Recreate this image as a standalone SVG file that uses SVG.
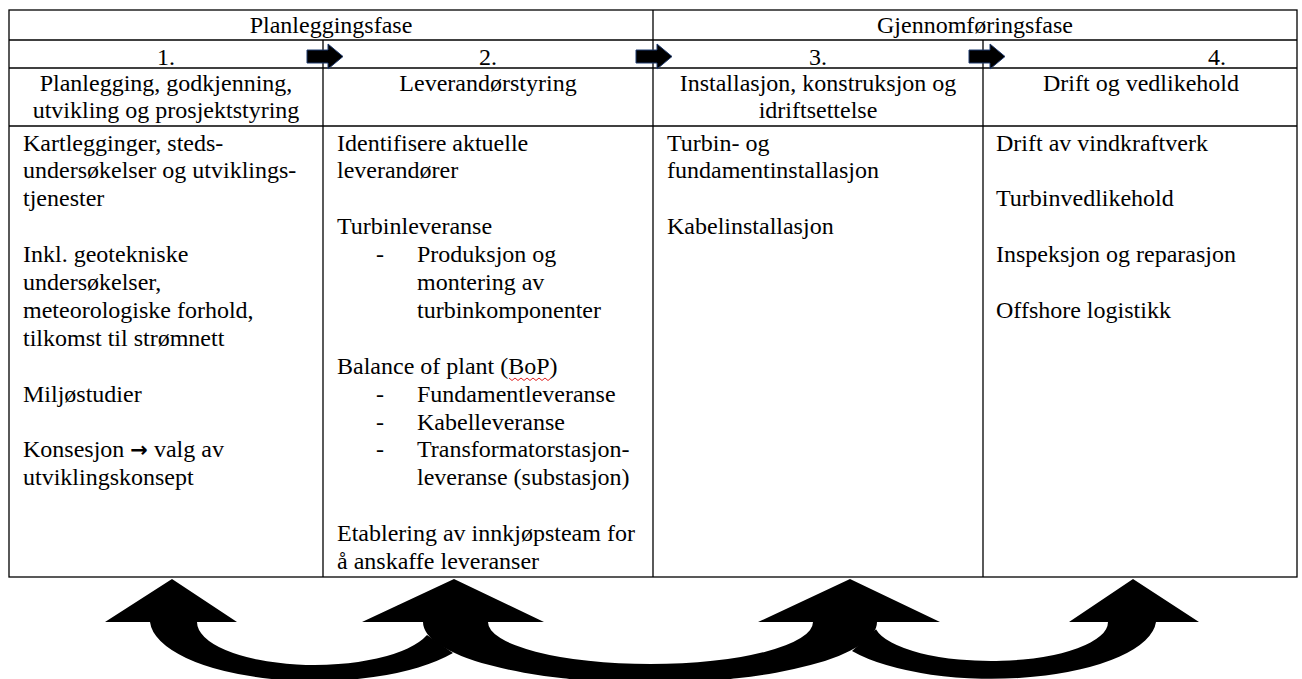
<svg xmlns="http://www.w3.org/2000/svg" width="1302" height="679" viewBox="0 0 1302 679">
<style>
text { font-family: "Liberation Serif", "Times New Roman", serif; font-size: 24px; fill: #000; }
.c { text-anchor: middle; }
.arr { font-family: "DejaVu Sans", sans-serif; font-weight: bold; font-size: 21px; }
.grid { stroke: #000; stroke-width: 1.3; fill: none; }
.sa { fill: #000; stroke: #1f3a6e; stroke-width: 1; }
.ca { fill: #000; }
.spell { fill: none; stroke: #e02020; stroke-width: 1; }
</style>
<rect width="1302" height="679" fill="#fff"/>
<g id="table" class="grid">
  <rect x="9" y="10" width="1288" height="567"/>
  <line x1="9" y1="40" x2="1297" y2="40"/>
  <line x1="9" y1="68" x2="1297" y2="68"/>
  <line x1="9" y1="126" x2="1297" y2="126"/>
  <line x1="653" y1="10" x2="653" y2="577"/>
  <line x1="323" y1="40" x2="323" y2="577"/>
  <line x1="983" y1="40" x2="983" y2="577"/>
</g>
<g id="phase-planlegging"><text class="c" x="331" y="33">Planleggingsfase</text></g>
<g id="phase-gjennomforing"><text class="c" x="975" y="33">Gjennomføringsfase</text></g>
<g id="step1">
  <text class="c" x="166" y="65">1.</text>
  <text class="c" x="166" y="91">Planlegging, godkjenning,</text>
  <text class="c" x="166" y="118">utvikling og prosjektstyring</text>
  <text x="23" y="150.5">Kartlegginger, steds-</text>
  <text x="23" y="178.4">undersøkelser og utviklings-</text>
  <text x="23" y="206.3">tjenester</text>
  <text x="23" y="262.1">Inkl. geotekniske</text>
  <text x="23" y="290">undersøkelser,</text>
  <text x="23" y="317.9">meteorologiske forhold,</text>
  <text x="23" y="345.8">tilkomst til strømnett</text>
  <text x="23" y="401.6">Miljøstudier</text>
  <text x="23" y="457.4">Konsesjon <tspan class="arr">→</tspan> valg av</text>
  <text x="23" y="485.3">utviklingskonsept</text>
</g>
<g id="step2">
  <text class="c" x="488" y="65">2.</text>
  <text class="c" x="488" y="91">Leverandørstyring</text>
  <text x="337" y="150.5">Identifisere aktuelle</text>
  <text x="337" y="178.4">leverandører</text>
  <text x="337" y="234.2">Turbinleveranse</text>
  <text x="376" y="262.1">-</text>
  <text x="417" y="262.1">Produksjon og</text>
  <text x="417" y="290">montering av</text>
  <text x="417" y="317.9">turbinkomponenter</text>
  <text x="337" y="373.7">Balance of plant (BoP)</text>
  <polyline class="spell" points="509,378 512,380.5 515,378 518,380.5 521,378 524,380.5 527,378 530,380.5 533,378 536,380.5 539,378 542,380.5 545,378 548,380.5 551,378"/>
  <text x="376" y="401.6">-</text>
  <text x="417" y="401.6">Fundamentleveranse</text>
  <text x="376" y="429.5">-</text>
  <text x="417" y="429.5">Kabelleveranse</text>
  <text x="376" y="457.4">-</text>
  <text x="417" y="457.4">Transformatorstasjon-</text>
  <text x="417" y="485.3">leveranse (substasjon)</text>
  <text x="337" y="541.1">Etablering av innkjøpsteam for</text>
  <text x="337" y="569">å anskaffe leveranser</text>
</g>
<g id="step3">
  <text class="c" x="818" y="65">3.</text>
  <text class="c" x="818" y="91">Installasjon, konstruksjon og</text>
  <text class="c" x="818" y="118">idriftsettelse</text>
  <text x="667" y="150.5">Turbin- og</text>
  <text x="667" y="178.4">fundamentinstallasjon</text>
  <text x="667" y="234.2">Kabelinstallasjon</text>
</g>
<g id="step4">
  <text class="c" x="1217" y="65">4.</text>
  <text class="c" x="1141" y="91">Drift og vedlikehold</text>
  <text x="996" y="150.5">Drift av vindkraftverk</text>
  <text x="996" y="206.3">Turbinvedlikehold</text>
  <text x="996" y="262.1">Inspeksjon og reparasjon</text>
  <text x="996" y="317.9">Offshore logistikk</text>
</g>
<g id="connectors">
  <path class="sa" d="M307,50 H328 V44 L343,56.5 L328,69 V63 H307 Z"/>
  <path class="sa" d="M636,50 H657 V44 L672,56.5 L657,69 V63 H636 Z"/>
  <path class="sa" d="M969,50 H990 V44 L1005,56.5 L990,69 V63 H969 Z"/>
  <path class="ca" d="M105,622 L172,579 L237,622 L197,622 A117.8,43 0 0 0 427,635 L453,653 A165,62 0 0 1 150,622 Z"/>
  <path class="ca" d="M362,622 L454,579 L544,622 L488,622 A162.5,42 0 0 0 813,622 L758,622 L850,579 L940,622 L877,622 A227,61 0 0 1 423,622 Z"/>
  <path class="ca" d="M876,629.2 A117,39 0 0 0 1108,622 L1069,622 L1133,579 L1199,622 L1156,622 A165,60 0 0 1 852,651 Z"/>
</g>
</svg>
